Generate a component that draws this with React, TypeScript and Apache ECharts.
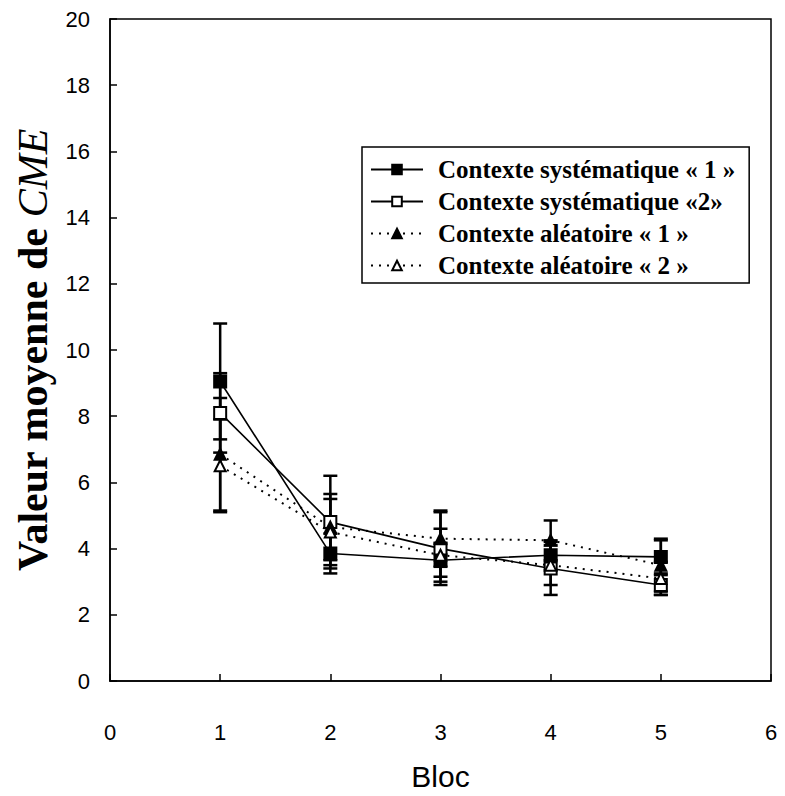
import React, { useEffect, useRef } from "react";
import * as echarts from "echarts";

const blocs = [1, 2, 3, 4, 5];
const seriesNames = [
  "Contexte systématique « 1 »",
  "Contexte systématique «2»",
  "Contexte aléatoire « 1 »",
  "Contexte aléatoire « 2 »",
];
const sys1 = [9.05, 3.85, 3.65, 3.8, 3.75];
const sys1Err = [1.75, 0.6, 0.5, 0.45, 0.5];
const sys2 = [8.1, 4.8, 4.0, 3.4, 2.9];
const sys2Err = [1.2, 1.4, 1.1, 0.8, 0.3];
const alea1 = [6.85, 4.65, 4.3, 4.25, 3.5];
const alea1Err = [1.7, 1.0, 0.85, 0.6, 0.8];
const alea2 = [6.5, 4.5, 3.8, 3.5, 3.1];
const alea2Err = [1.4, 1.0, 0.8, 0.6, 0.5];

const xTicks = [0, 1, 2, 3, 4, 5, 6];
const yTicks = [0, 2, 4, 6, 8, 10, 12, 14, 16, 18, 20];

export default function App() {
  const ref = useRef<HTMLDivElement>(null);
  useEffect(() => {
    if (!ref.current) return;
    const chart = echarts.init(ref.current, undefined, { renderer: "svg" });
    const values = [sys1, sys2, alea1, alea2];
    const errs = [sys1Err, sys2Err, alea1Err, alea2Err];
    const symbols = ["rect", "rect", "triangle", "triangle"];
    const filled = [true, false, true, false];
    const dotted = [false, false, true, true];

    const lineSeries = values.map((v, i) => ({
      type: "line",
      name: seriesNames[i],
      data: blocs.map((b, j) => [b, v[j]]),
      symbol: symbols[i],
      symbolSize: symbols[i] === "rect" ? 12 : 11,
      showSymbol: true,
      z: 5,
      lineStyle: {
        color: "#000",
        width: dotted[i] ? 2 : 1.6,
        type: dotted[i] ? [2, 6] : "solid",
      },
      itemStyle: {
        color: filled[i] ? "#000" : "#fff",
        borderColor: "#000",
        borderWidth: 2,
      },
    }));

    const errSeries = values.map((v, i) => ({
      type: "custom",
      name: "err" + i,
      z: 3,
      data: blocs.map((b, j) => [b, v[j] - errs[i][j], v[j] + errs[i][j]]),
      encode: { x: 0, y: [1, 2] },
      renderItem: (params: any, api: any) => {
        const x = api.value(0);
        const lo = api.coord([x, api.value(1)]);
        const hi = api.coord([x, api.value(2)]);
        const w = 7;
        const style = { stroke: "#000", lineWidth: 2.5 };
        return {
          type: "group",
          children: [
            { type: "line", shape: { x1: lo[0], y1: lo[1], x2: hi[0], y2: hi[1] }, style },
            { type: "line", shape: { x1: hi[0] - w, y1: hi[1], x2: hi[0] + w, y2: hi[1] }, style },
            { type: "line", shape: { x1: lo[0] - w, y1: lo[1], x2: lo[0] + w, y2: lo[1] }, style },
          ],
        };
      },
      silent: true,
    }));

    chart.setOption({
      animation: false,
      backgroundColor: "#fff",
      grid: {
        left: 110,
        right: 14,
        top: 19,
        bottom: 114,
        show: true,
        borderColor: "#000",
        borderWidth: 1.5,
      },
      legend: {
        orient: "vertical",
        left: 362,
        top: 147,
        padding: [10, 14, 5, 8],
        itemGap: 7,
        itemWidth: 52,
        itemHeight: 12,
        borderColor: "#000",
        borderWidth: 1.5,
        backgroundColor: "#fff",
        data: seriesNames,
        textStyle: {
          fontFamily: "'Liberation Serif', 'Times New Roman', serif",
          fontWeight: "bold",
          fontSize: 25,
          lineHeight: 24,
          color: "#000",
          padding: [0, 0, 0, 10],
        },
      },
      xAxis: {
        type: "value",
        min: 0,
        max: 6,
        interval: 1,
        name: "Bloc",
        nameLocation: "middle",
        nameGap: 80,
        nameTextStyle: {
          fontFamily: "'Liberation Sans', Arial, sans-serif",
          fontSize: 30,
          color: "#000",
        },
        axisLine: { show: true, lineStyle: { color: "#000", width: 1.5 } },
        axisTick: { show: true, inside: true, length: 7, lineStyle: { color: "#000", width: 1.5 } },
        splitLine: { show: false },
        axisLabel: {
          color: "#000",
          fontFamily: "'Liberation Sans', Arial, sans-serif",
          fontSize: 22,
          margin: 40,
          formatter: (v: number) => (xTicks.includes(v) ? String(v) : ""),
        },
      },
      yAxis: {
        type: "value",
        min: 0,
        max: 20,
        interval: 2,
        name: "{a|Valeur moyenne de }{b|CME}",
        nameLocation: "middle",
        nameGap: 56,
        nameRotate: 90,
        nameTextStyle: {
          rich: {
            a: {
              fontFamily: "'Liberation Serif', 'Times New Roman', serif",
              fontWeight: "bold",
              fontSize: 42,
              color: "#000",
            },
            b: {
              fontFamily: "'Liberation Serif', 'Times New Roman', serif",
              fontStyle: "italic",
              fontSize: 42,
              color: "#000",
            },
          },
        },
        axisLine: { show: true, lineStyle: { color: "#000", width: 1.5 } },
        axisTick: { show: true, inside: true, length: 7, lineStyle: { color: "#000", width: 1.5 } },
        splitLine: { show: false },
        axisLabel: {
          color: "#000",
          fontFamily: "'Liberation Sans', Arial, sans-serif",
          fontSize: 22,
          margin: 20,
          formatter: (v: number) => (yTicks.includes(v) ? String(v) : ""),
        },
      },
      series: [...errSeries, ...lineSeries],
    });
    return () => chart.dispose();
  }, []);
  return <div ref={ref} style={{ width: 785, height: 796, margin: -8 }} />;
}
